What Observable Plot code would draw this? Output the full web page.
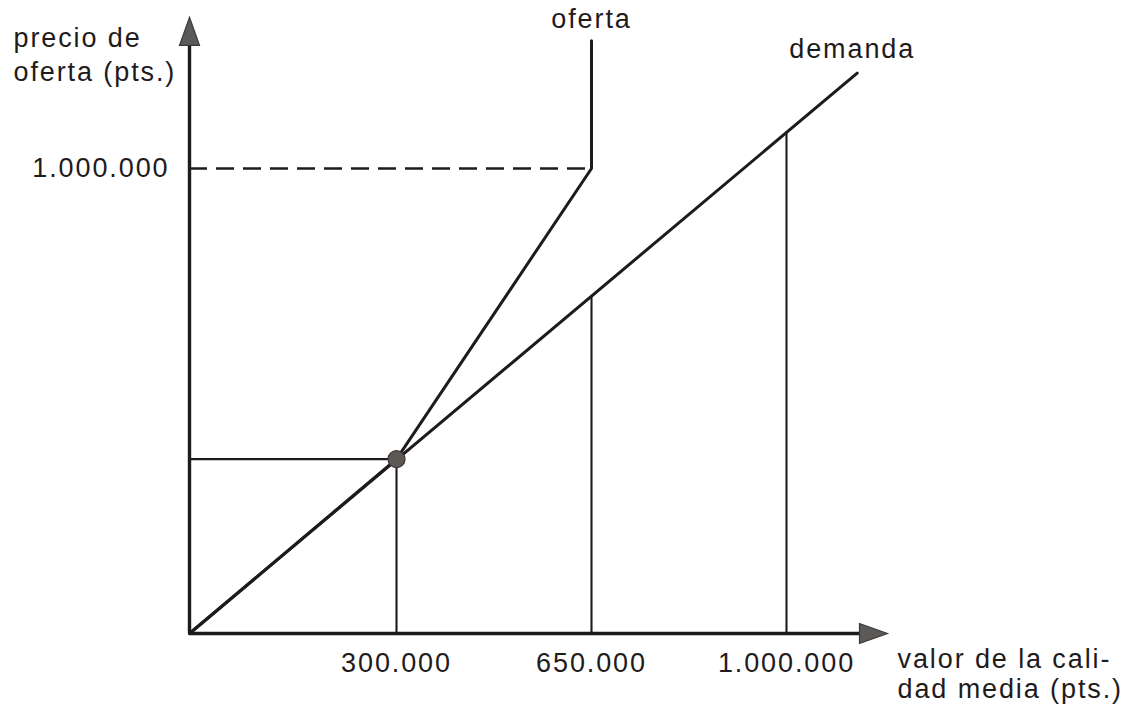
<!DOCTYPE html>
<html>
<head>
<meta charset="utf-8">
<script src="https://cdn.jsdelivr.net/npm/d3@7"></script>
<script src="https://cdn.jsdelivr.net/npm/@observablehq/plot@0.6"></script>
<style>
  html, body { margin: 0; padding: 0; background: #ffffff; }
  #chart svg { display: block; }
</style>
</head>
<body>
<div id="chart"></div>
<script>
// ---- data ----
const xTicks = [300000, 650000, 1000000];
const yTicks = [1000000];
const xBreaks = [0, 300000, 650000, 1000000, 1200000];   // schematic (non-linear) value axis
const xAxisEnd = 1200000;
const yAxisEnd = 1325000;
const equilibrium = [{x: 300000, y: 375000}];
const supply = [
  {x: 0, y: 0},
  {x: 300000, y: 375000},
  {x: 650000, y: 1000000},
  {x: 650000, y: 1275000}
];
const demand = [
  {x: 0, y: 0},
  {x: 1140000, y: 1205000}
];
const verticals = [
  {x: 300000, y: 375000},
  {x: 650000, y: 727000},
  {x: 1000000, y: 1078000}
];
const priceCap = [{x: 650000, y: 1000000}];
const curveLabels = ["oferta", "demanda"];
const yTitle = "precio de\noferta (pts.)";
const xTitle = "valor de la cali-\ndad media (pts.)";

// ---- styling / scale config ----
const ink = "#1f1b1c";
const fmt = d => d3.format(",")(d).replace(/,/g, ".");
// the drawn axis is not proportional: a piecewise map gives the schematic spacing
const schematic = d3.scaleLinear().domain(xBreaks).range([0, 207, 402, 597, 698]);
const arrowHead = {
  draw(ctx) {
    ctx.moveTo(0, 0);
    ctx.lineTo(-10, 28);
    ctx.lineTo(10, 28);
    ctx.closePath();
  }
};

const chart = Plot.plot({
  width: 1130,
  height: 705,
  marginLeft: 189,
  marginRight: 243,
  marginTop: 168,
  marginBottom: 72,
  style: {
    fontFamily: "'Liberation Sans', Arial, Helvetica, sans-serif",
    fontSize: "27px",
    letterSpacing: "1.9px",
    color: ink,
    background: "#ffffff",
    overflow: "visible"
  },
  x: {transform: schematic, domain: [0, 698]},
  y: {domain: [0, 1000000]},
  marks: [
    // dashed price reference
    Plot.ruleY(priceCap, {y: "y", x1: 0, x2: "x", stroke: ink, strokeWidth: 2.6, strokeDasharray: "18,9"}),
    // thin reference lines
    Plot.ruleX(verticals, {x: "x", y1: 0, y2: "y", stroke: ink, strokeWidth: 2.1}),
    Plot.ruleY(equilibrium, {y: "y", x1: 0, x2: "x", stroke: ink, strokeWidth: 2.1}),
    // curves
    Plot.line(demand, {x: "x", y: "y", stroke: ink, strokeWidth: 3}),
    Plot.line(supply, {x: "x", y: "y", stroke: ink, strokeWidth: 3, strokeLinejoin: "miter"}),
    // axes lines
    Plot.ruleX([0], {y1: 0, y2: yAxisEnd * 0.97, stroke: ink, strokeWidth: 3.4}),
    Plot.ruleY([0], {x1: 0, x2: xAxisEnd * 0.98, stroke: ink, strokeWidth: 3.4}),
    // arrow heads
    Plot.dot([{x: 0, y: yAxisEnd}], {x: "x", y: "y", symbol: arrowHead, fill: "#5c5a58", stroke: "#3a3836", strokeWidth: 1.2}),
    Plot.dot([{x: xAxisEnd, y: 0}], {x: "x", y: "y", symbol: arrowHead, rotate: 90, fill: "#5c5a58", stroke: "#3a3836", strokeWidth: 1.2}),
    // equilibrium point
    Plot.dot(equilibrium, {x: "x", y: "y", r: 8.5, fill: "#5e5854", stroke: "#3b3633", strokeWidth: 1.2}),
    // tick labels
    Plot.axisX(xTicks, {tickSize: 0, tickPadding: 19, tickFormat: fmt, label: null, fontSize: 27, fill: ink}),
    Plot.axisY(yTicks, {tickSize: 0, tickPadding: 20, tickFormat: fmt, label: null, fontSize: 27, fill: ink}),
    // curve labels
    Plot.text([supply[supply.length - 1]], {x: "x", y: "y", text: () => curveLabels[0], dy: -13, lineAnchor: "bottom", fill: ink, fontSize: 27}),
    Plot.text([demand[demand.length - 1]], {x: "x", y: "y", text: () => curveLabels[1], dx: -5, dy: -15, lineAnchor: "bottom", fill: ink, fontSize: 27}),
    // axis titles
    Plot.text([{x: 0, y: yAxisEnd}], {x: "x", y: "y", text: () => yTitle, textAnchor: "start", dx: -176, dy: 64, lineAnchor: "bottom", lineHeight: 1.26, fill: ink, fontSize: 27}),
    Plot.text([{x: xAxisEnd, y: 0}], {x: "x", y: "y", text: () => xTitle, textAnchor: "start", dx: 10, dy: 64, lineAnchor: "bottom", lineHeight: 1.08, fill: ink, fontSize: 27})
  ]
});

document.getElementById("chart").append(chart);
</script>
</body>
</html>
